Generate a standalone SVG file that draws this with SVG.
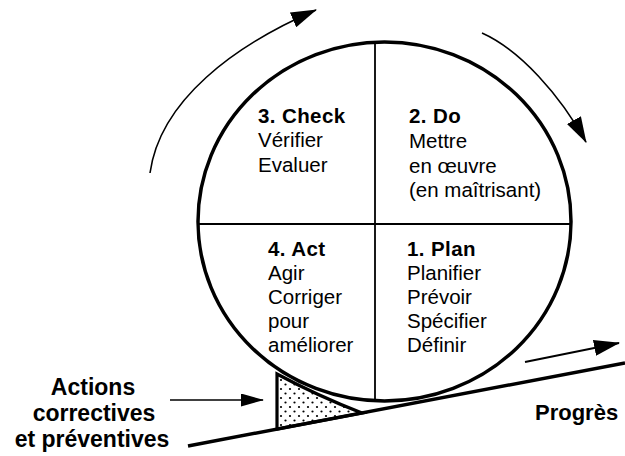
<svg xmlns="http://www.w3.org/2000/svg" width="625" height="456" viewBox="0 0 625 456">
  <style>
    .txt { font-family: "Liberation Sans", Arial, sans-serif; fill: #000; }
    .q { font-size: 20.5px; }
    .qt { font-size: 20.5px; font-weight: bold; letter-spacing: 0.4px; }
    .lbl { font-size: 23px; font-weight: bold; }
    .wheel { fill: #fff; stroke: #000; stroke-width: 3.5; }
    .div { stroke: #000; stroke-width: 1.8; fill: none; }
    .arc { fill: none; stroke: #000; stroke-width: 1.6; }
  </style>
  <defs>
    <marker id="head" viewBox="0 0 26 16" markerWidth="26" markerHeight="16" refX="25" refY="8" orient="auto" markerUnits="userSpaceOnUse">
      <path d="M0,0 L26,8 L0,16 z" fill="#000"/>
    </marker>
    <marker id="headSmall" viewBox="0 0 23 13" markerWidth="23" markerHeight="13" refX="22" refY="6.5" orient="auto" markerUnits="userSpaceOnUse">
      <path d="M0,0 L23,6.5 L0,13 z" fill="#000"/>
    </marker>
    <pattern id="dots" width="9" height="9" patternUnits="userSpaceOnUse">
      <circle cx="2" cy="2" r="1.1" fill="#000"/>
      <circle cx="6.5" cy="6.5" r="1.1" fill="#000"/>
    </pattern>
  </defs>

  <rect width="625" height="456" fill="#fff"/>

  <!-- slope -->
  <g id="slope">
    <line x1="188" y1="446" x2="625" y2="363" stroke="#000" stroke-width="3.5"/>
  </g>

  <!-- wedge holding the wheel -->
  <g id="wedge">
    <path d="M277,374 Q318,396 362,413 L277,429 Z" fill="url(#dots)" stroke="#000" stroke-width="3.2" stroke-linejoin="miter"/>
  </g>

  <!-- the wheel -->
  <g id="wheel">
    <ellipse class="wheel" cx="384.5" cy="221.5" rx="186.5" ry="179.5"/>
    <line class="div" x1="198" y1="224" x2="571" y2="224"/>
    <line class="div" x1="375" y1="42" x2="375" y2="401"/>
  </g>

  <g id="check" class="txt">
    <text class="qt" x="258" y="123">3. Check</text>
    <text class="q" x="258" y="147">Vérifier</text>
    <text class="q" x="258" y="172">Evaluer</text>
  </g>

  <g id="do" class="txt">
    <text class="qt" x="409" y="123">2. Do</text>
    <text class="q" x="409" y="148">Mettre</text>
    <text class="q" x="409" y="173">en œuvre</text>
    <text class="q" x="409" y="197">(en maîtrisant)</text>
  </g>

  <g id="act" class="txt">
    <text class="qt" x="268" y="256">4. Act</text>
    <text class="q" x="268" y="280">Agir</text>
    <text class="q" x="268" y="304">Corriger</text>
    <text class="q" x="268" y="328">pour</text>
    <text class="q" x="268" y="352">améliorer</text>
  </g>

  <g id="plan" class="txt">
    <text class="qt" x="407" y="256">1. Plan</text>
    <text class="q" x="407" y="280">Planifier</text>
    <text class="q" x="407" y="304">Prévoir</text>
    <text class="q" x="407" y="328">Spécifier</text>
    <text class="q" x="407" y="352">Définir</text>
  </g>

  <g id="actions" class="txt">
    <text class="lbl" x="93" y="395" text-anchor="middle">Actions</text>
    <text class="lbl" x="94" y="421" text-anchor="middle">correctives</text>
    <text class="lbl" x="92" y="447" text-anchor="middle">et préventives</text>
  </g>

  <g id="progres" class="txt">
    <text class="lbl" x="535" y="420" style="font-size:22px">Progrès</text>
  </g>

  <!-- connectors -->
  <g id="connectors">
    <path class="arc" d="M150,173 C160,100 235,45 316,10" marker-end="url(#head)"/>
    <path class="arc" d="M482,33 C520,50 560,95 586,142" marker-end="url(#head)"/>
    <line x1="525" y1="362" x2="619" y2="343" stroke="#000" stroke-width="2" marker-end="url(#head)"/>
    <line x1="170" y1="400" x2="263" y2="400" stroke="#000" stroke-width="1.6" marker-end="url(#headSmall)"/>
  </g>
</svg>
